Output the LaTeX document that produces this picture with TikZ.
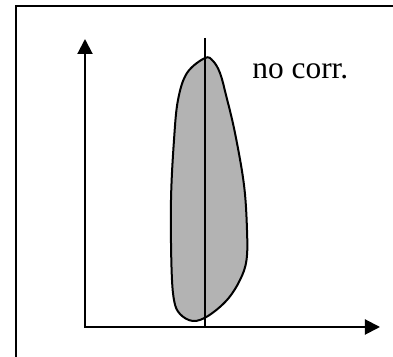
\documentclass[tikz,border=0pt]{standalone}
\usepackage{fontspec}
\setmainfont{Liberation Serif}
\usepackage{xcolor}
\usepackage{tikz}
\usetikzlibrary{arrows.meta}
\definecolor{ink}{HTML}{000000}
\definecolor{cBlob}{HTML}{B3B3B3}
\tikzset{
  frm/.style  = {line width=1pt, draw=ink},
  axs/.style  = {line width=1pt, draw=ink, {Triangle[length=7.5pt,width=7.5pt]}-{Triangle[length=7.5pt,width=7.5pt]}},
  mid/.style  = {line width=0.9pt, draw=ink},
  blob/.style = {line width=1pt, draw=ink, fill=cBlob},
  lab/.style  = {font=\fontsize{15.7}{18}\selectfont, text=ink, inner sep=0pt, anchor=base west},
}

\begin{document}
\begin{tikzpicture}[x=0.5pt, y=-0.5pt]
  \useasboundingbox (0,0) rectangle (393,357);
  % outer frame (only left and top edges show)
  \draw[frm] (16.5,357) -- (16.5,6.5) -- (393,6.5);

  \coordinate (org) at (85,327);
  \coordinate (ytip) at (85,39);
  \coordinate (xtip) at (380,327);
  \coordinate (mtop) at (205,38);
  \coordinate (mbot) at (205,327);

  % distribution
  \draw[blob] plot[smooth cycle, tension=0.6] coordinates {
    (205,58) (187,73) (178,100) (174,140) (171,200) (171.5,267) (174,300)
    (180,314) (193,321) (208,316) (227,300) (240,280) (246.5,260) (247,230)
    (244,185) (235,133) (226,95) (220,73) (213,61)};

  \draw[mid] (mtop) -- (mbot);
  \draw[axs] (ytip) -- (org) -- (xtip);

  \node[lab] (nc) at (252,79) {no corr.};
\end{tikzpicture}
\end{document}
